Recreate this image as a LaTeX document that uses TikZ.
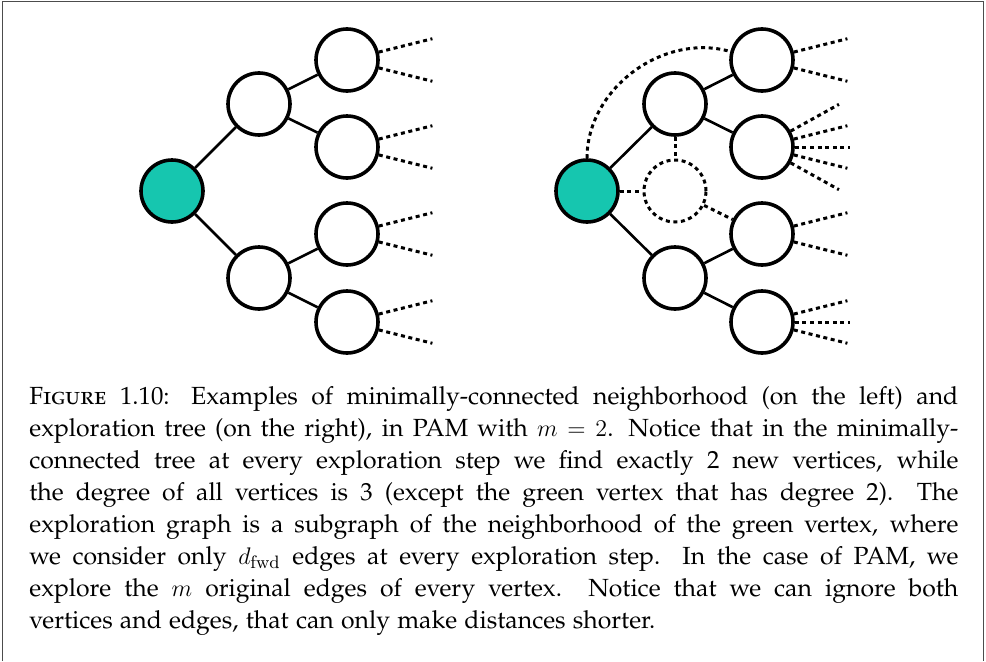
\documentclass[tikz,border=0pt]{standalone}
\usepackage[T1]{fontenc}
% Palatino text with real small caps; mathematics stays in Computer Modern
\renewcommand{\rmdefault}{pplx}
\usetikzlibrary{calc}

% one drawing unit
\newlength\pxu
\setlength\pxu{0.5pt}

\definecolor{seed}{RGB}{22,198,175}

\tikzset{
  dotline/.style={dash pattern=on 4\pxu off 3.6\pxu},
  vert/.style={circle, draw=black, line width=3.6\pxu, minimum size=62\pxu,
               inner sep=0pt, fill=white},
  root/.style={vert, fill=seed},
  ghost/.style={circle, draw=black, line width=3\pxu, minimum size=62\pxu,
                inner sep=0pt, dotline},
  edge/.style={line width=2.6\pxu},
  stub/.style={line width=3\pxu, dotline},
  frame/.style={line width=1.4\pxu, black!70},
}

\begin{document}
\begin{tikzpicture}[x=\pxu, y=\pxu]
\useasboundingbox (0,0) rectangle (986,661);

% open frame (no bottom rule)
\draw[frame] (2.5,0) -- (2.5,659.5) -- (983.5,659.5) -- (983.5,0);

% ---- minimally-connected neighbourhood ----
\node[root] (g1) at (172,470) {};
\node[vert] (a1) at (259,557) {};
\node[vert] (a2) at (259,383) {};
\node[vert] (b1) at (347,601) {};
\node[vert] (b2) at (347,514) {};
\node[vert] (b3) at (347,427) {};
\node[vert] (b4) at (347,339) {};
\draw[edge] (g1) -- (a1);
\draw[edge] (g1) -- (a2);
\draw[edge] (a1) -- (b1);
\draw[edge] (a1) -- (b2);
\draw[edge] (a2) -- (b3);
\draw[edge] (a2) -- (b4);

% ---- exploration tree ----
\node[root]  (g2) at (587,470) {};
\node[vert]  (c1) at (675,557) {};
\node[vert]  (c2) at (675,383) {};
\node[ghost] (h)  at (675,470) {};
\node[vert]  (d1) at (762,601) {};
\node[vert]  (d2) at (762,514) {};
\node[vert]  (d3) at (762,427) {};
\node[vert]  (d4) at (762,339) {};
\draw[edge] (g2) -- (c1);
\draw[edge] (g2) -- (c2);
\draw[edge] (c1) -- (d1);
\draw[edge] (c1) -- (d2);
\draw[edge] (c2) -- (d3);
\draw[edge] (c2) -- (d4);

% ignored vertex and edges
\draw[stub] (g2.north) to[out=90, in=164] (d1.165);
\draw[stub] (c1) -- (h);
\draw[stub] (g2) -- (h);
\draw[stub] (h) -- (d3);

% unexplored continuations
\foreach \n/\a [count=\k] in {b1/14, b1/-14, b2/14, b2/-14, b3/14, b3/-14,
    b4/14, b4/-14, d1/14, d1/-14, d2/29, d2/14, d2/0, d2/-14, d2/-29,
    d3/14, d3/-14, d4/14, d4/0, d4/-14} {
  \coordinate (tip\k) at ($(\n)+(\a:88)$);
  \draw[stub] (\n.\a) -- (tip\k);
}

% caption
\node[anchor=base west, text width=929\pxu, inner sep=0pt, align=justify,
      font=\fontsize{12.4}{16.0}\selectfont] (cap) at (29,256.5) {%
\textsc{Figure} 1.10: Examples of minimally-connected neighborhood (on the left) and\linebreak
exploration tree (on the right), in PAM with $m=2$. Notice that in the minimally-\linebreak
connected tree at every exploration step we find exactly 2 new vertices, while\linebreak
the degree of all vertices is 3 (except the green vertex that has degree 2). The\linebreak
exploration graph is a subgraph of the neighborhood of the green vertex, where\linebreak
we consider only $d_{\mathrm{fwd}}$ edges at every exploration step. In the case of PAM, we\linebreak
explore the $m$ original edges of every vertex. Notice that we can ignore both\linebreak
vertices and edges, that can only make distances shorter.};
\end{tikzpicture}
\end{document}
